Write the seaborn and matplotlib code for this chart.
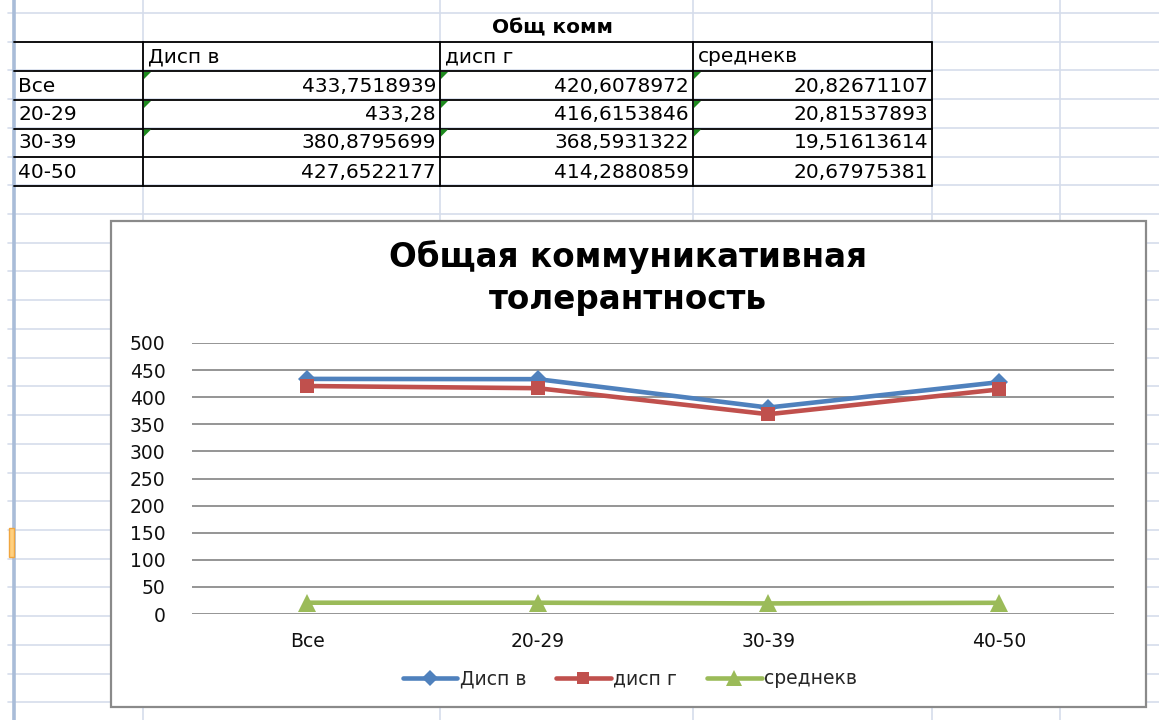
import matplotlib
matplotlib.use("Agg")
import numpy as np
import pandas as pd
import matplotlib.pyplot as plt
import seaborn as sns
from matplotlib.lines import Line2D
from matplotlib.patches import Rectangle, Polygon

# ---------------- data ----------------
categories = ["Все", "20-29", "30-39", "40-50"]
series_names = ["Дисп в", "дисп г", "среднекв"]
disp_v = [433.7518939, 433.28, 380.8795699, 427.6522177]
disp_g = [420.6078972, 416.6153846, 368.5931322, 414.2880859]
srednekv = [20.82671107, 20.81537893, 19.51613614, 20.67975381]
table_title = "Общ комм"
chart_title = "Общая коммуникативная\nтолерантность"
y_ticks = [0, 50, 100, 150, 200, 250, 300, 350, 400, 450, 500]

series_values = [disp_v, disp_g, srednekv]
colors = {"Дисп в": "#4F81BD", "дисп г": "#C0504D", "среднекв": "#9BBB59"}
markers = {"Дисп в": "D", "дисп г": "s", "среднекв": "^"}
msizes = {"Дисп в": 9, "дисп г": 10, "среднекв": 13}

df = pd.DataFrame({
    "series": np.repeat(series_names, len(categories)),
    "group": categories * len(series_names),
    "pos": list(range(len(categories))) * len(series_names),
    "value": np.concatenate(series_values),
})

# ---------------- figure ----------------
sns.set_theme(style="white")
plt.rcParams["font.family"] = ["DejaVu Sans"]

W, H = 1159, 720
fig = plt.figure(figsize=(W / 100, H / 100), dpi=100)
fig.patch.set_facecolor("white")


def fx(px):
    return px / W


def fy(py):
    return 1 - py / H


def fline(x0, y0, x1, y1, **kw):
    fig.add_artist(Line2D([fx(x0), fx(x1)], [fy(y0), fy(y1)],
                          transform=fig.transFigure, **kw))


# spreadsheet grid
grid_c = "#D5DDEB"
row_y = [13 + 28.72 * k for k in range(25)]
for y in row_y:
    fline(8, y, W, y, color=grid_c, lw=1.2, zorder=-5)
for x in [143, 440, 693, 932, 1060]:
    fline(x, 0, x, H, color=grid_c, lw=1.2, zorder=-5)
fline(13.5, 0, 13.5, H, color="#A9BCD8", lw=2.6, zorder=-4)
fig.add_artist(Rectangle((fx(9), fy(557)), fx(5), 29 / H, transform=fig.transFigure,
                         facecolor="#FFD07F", edgecolor="#F0A640", lw=1, zorder=-4))

# table
tab_rows = [42, 71, 100, 128.5, 157, 186]
for y in tab_rows:
    fline(14, y, 932, y, color="black", lw=1.3, zorder=-3)
for x in [143, 440, 693, 932]:
    fline(x, 42, x, 186, color="black", lw=1.3, zorder=-3)

tfs = 14.5
fig.text(fx(553), fy(28), table_title, ha="center", va="center",
         fontsize=tfs, fontweight="bold", color="black")
col_left = [148, 445, 698]
col_right = [436, 689, 928]
for i, name in enumerate(series_names):
    fig.text(fx(col_left[i]), fy(57), name, ha="left", va="center", fontsize=tfs, color="black")
row_centers = [86, 114, 143, 172]
for r, cat in enumerate(categories):
    fig.text(fx(18), fy(row_centers[r]), cat, ha="left", va="center", fontsize=tfs, color="black")
    for i, vals in enumerate(series_values):
        s = f"{vals[r]:.10g}".replace(".", ",")
        fig.text(fx(col_right[i]), fy(row_centers[r]), s, ha="right", va="center",
                 fontsize=tfs, color="black")
# green error-indicator triangles
for r in range(1, 4):
    top = tab_rows[r]
    for x in [143, 440, 693]:
        fig.add_artist(Polygon([[fx(x + 1), fy(top + 1)], [fx(x + 8), fy(top + 1)],
                                [fx(x + 1), fy(top + 8)]], closed=True,
                               transform=fig.transFigure, facecolor="#1E8A1E",
                               edgecolor="none", zorder=-2))

# chart box
fig.add_artist(Rectangle((fx(111), fy(707)), (1146 - 111) / W, (707 - 221) / H,
                         transform=fig.transFigure, facecolor="white",
                         edgecolor="#8A8A8A", lw=1.6, zorder=-1))

fig.text(fx(628), fy(278), chart_title, ha="center", va="center", fontsize=23.5,
         fontweight="bold", color="black", linespacing=1.35)

# plot area
ax = fig.add_axes([fx(192), fy(614), (1114 - 192) / W, (614 - 343) / H])
ax.patch.set_alpha(0)
for name in series_names:
    sub = df[df["series"] == name]
    sns.lineplot(data=sub, x="pos", y="value", color=colors[name], marker=markers[name],
                 markersize=msizes[name], markeredgewidth=0, linewidth=3.3,
                 sort=False, ax=ax, legend=False)

ax.set_xlim(-0.5, len(categories) - 0.5)
ax.set_ylim(y_ticks[0], y_ticks[-1])
ax.set_yticks(y_ticks)
ax.set_xticks(range(len(categories)))
ax.set_xticklabels(categories)
ax.set_xlabel("")
ax.set_ylabel("")
ax.yaxis.grid(True, color="#8C8C8C", lw=1.3)
ax.xaxis.grid(False)
ax.set_axisbelow(True)
for sp in ax.spines.values():
    sp.set_visible(False)
ax.tick_params(axis="y", length=0, pad=19, labelsize=13.5, labelcolor="#111111")
ax.tick_params(axis="x", length=0, pad=13, labelsize=13.5, labelcolor="#111111")

handles = [Line2D([0], [0], color=colors[n], marker=markers[n], markersize=msizes[n] - 1,
                  markeredgewidth=0, lw=3.3) for n in series_names]
fig.legend(handles, series_names, loc="center", bbox_to_anchor=(fx(630), fy(679)),
           ncol=3, frameon=False, fontsize=13.5, handlelength=2.9, handletextpad=0.15,
           columnspacing=1.6)

fig.savefig("out.png", dpi=100)
